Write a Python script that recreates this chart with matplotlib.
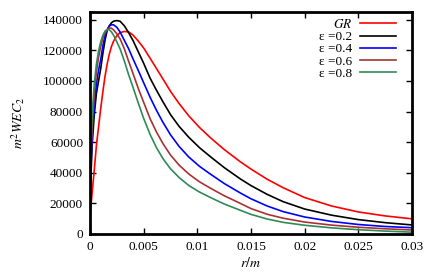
import matplotlib
matplotlib.use('Agg')
from matplotlib import pyplot as plt

plt.rcParams['font.family'] = ['Liberation Serif', 'DejaVu Serif']
plt.rcParams['mathtext.fontset'] = 'stix'

r = [0, 0.0001, 0.0002, 0.0004, 0.0006, 0.0008, 0.001, 0.0012, 0.0014, 0.0016,
     0.0018, 0.002, 0.0022, 0.0025, 0.0028, 0.0032, 0.0036, 0.004, 0.0045, 0.005,
     0.0056, 0.0062, 0.0068, 0.0075, 0.0083, 0.0092, 0.0102, 0.0112, 0.0125, 0.014,
     0.015, 0.0165, 0.018, 0.02, 0.0225, 0.025, 0.0275, 0.03]

gr = [11000, 19000, 27000, 42000, 58000, 70000, 82000, 93000, 103000, 111000,
      117500, 122500, 126000, 129500, 131500, 132300, 132000, 130000, 126000, 121500,
      114800, 108000, 101200, 93200, 85200, 77200, 69600, 63000, 55200, 47200,
      42400, 35800, 30200, 23800, 18300, 14400, 11800, 9900]

eps02 = [15000, 40000, 58000, 78000, 92000, 100000, 108000, 118000, 126500, 133000,
         136000, 138000, 139000, 139400, 139000, 136000, 131500, 126500, 119000, 111500,
         101800, 93800, 86300, 78000, 70300, 63200, 56400, 50600, 43400, 36000,
         31600, 25900, 21100, 16300, 12300, 9400, 7400, 5900]

eps04 = [16000, 46000, 64000, 84000, 98000, 107000, 114000, 123000, 129500, 133500,
         135800, 136700, 136600, 135000, 132000, 126500, 121000, 114500, 106800, 98800,
         89300, 80700, 72900, 64800, 57200, 50300, 44200, 39200, 33000, 26800,
         23000, 18300, 14600, 11100, 8200, 6200, 4900, 4100]

eps06 = [17000, 52000, 70000, 92000, 106000, 115500, 122500, 128000, 131500, 133600,
         134500, 134400, 133300, 130800, 127500, 121000, 112800, 105000, 95000, 86000,
         75300, 66500, 59000, 51600, 45000, 39200, 34100, 30000, 25000, 20000,
         16600, 12900, 10300, 7800, 5800, 4400, 3400, 2600]

eps08 = [18000, 60000, 78000, 98000, 111000, 119500, 125500, 129800, 132500, 133600,
         133400, 132000, 129800, 125500, 121000, 113000, 104000, 96000, 85500, 75500,
         65000, 56300, 49200, 42600, 36900, 31700, 27400, 23900, 19600, 15500,
         12800, 9800, 7600, 5700, 4000, 2800, 1900, 1200]

series = [gr, eps02, eps04, eps06, eps08]
labels = [r'$GR$', 'ε =0.2', 'ε =0.4', 'ε =0.6', 'ε =0.8']
colors = ['#ff0000', '#000000', '#0000ff', '#a83232', '#2e8b57']

fig = plt.figure(figsize=(4.36, 2.73), dpi=100)
ax = fig.add_axes([0.2064, 0.1429, 0.7386, 0.8131])

for y, lab, c in zip(series, labels, colors):
    ax.plot(r, y, color=c, lw=1.2, label=lab)

ax.set_xlim(0, 0.03)
ax.set_ylim(0, 145000)
ax.set_xticks([0, 0.005, 0.01, 0.015, 0.02, 0.025, 0.03])
ax.set_xticklabels(['0', '0.005', '0.01', '0.015', '0.02', '0.025', '0.03'])
ax.set_yticks(range(0, 140001, 20000))
ax.tick_params(direction='in', top=True, right=True, length=4, width=1,
               labelsize=9.5, pad=5)
for s in ax.spines.values():
    s.set_linewidth(2)

ax.set_xlabel(r'$r/m$', fontsize=10, labelpad=2)
ax.set_ylabel(r'$m^2WEC_2$', fontsize=10, labelpad=12)

ax.legend(loc='upper right', frameon=False, markerfirst=False, fontsize=9.5,
          handlelength=2.7, labelspacing=0.0, borderaxespad=0.0,
          bbox_to_anchor=(0.966, 0.997), handletextpad=0.6)

fig.savefig('out.png', dpi=100)
